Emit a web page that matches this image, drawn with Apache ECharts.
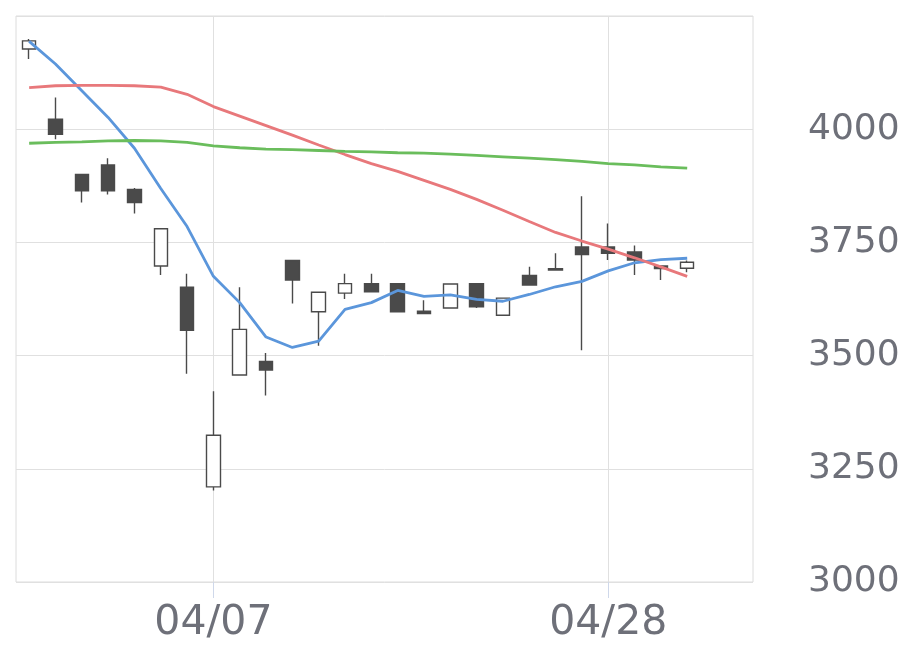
<!DOCTYPE html>
<html>
<head>
<meta charset="utf-8">
<script src="https://cdn.jsdelivr.net/npm/echarts@6/dist/echarts.min.js"></script>
<style>html,body{margin:0;padding:0;background:#fff}#c{width:920px;height:669px}</style>
</head>
<body>
<div id="c"></div>
<script>
const dates = ['03/27','03/28','03/31','04/01','04/02','04/03','04/04','04/07','04/08','04/09','04/10','04/11','04/14','04/15','04/16','04/17','04/18','04/21','04/22','04/23','04/24','04/25','04/28','04/30','05/01','05/02','05/07','05/08'];
const shownLabels = ['04/07','04/28'];
// [open, close, low, high]
const opens  = [4177,4022,3900,3921,3867,3698,3651,3210,3457,3487,3710,3597,3638,3659,3659,3598,3605,3659,3589,3677,3692,3740,3740,3729,3698,3693];
const closes = [4195,3989,3864,3864,3838,3780,3556,3324,3558,3468,3667,3640,3659,3641,3597,3593,3658,3608,3627,3656,3689,3723,3726,3711,3692,3706];
const lows   = [4155,3978,3838,3856,3814,3678,3460,3202,3457,3412,3615,3522,3625,3641,3597,3593,3605,3605,3589,3656,3689,3512,3711,3678,3667,3684];
const highs  = [4199,4070,3900,3936,3870,3780,3681,3421,3651,3506,3710,3640,3681,3681,3659,3622,3658,3659,3627,3696,3726,3852,3792,3743,3698,3710];
const ma5  = [4194,4144,4085,4026,3958,3869,3785,3675,3617,3541,3518,3532,3602,3617,3644,3631,3634,3624,3620,3635,3652,3664,3687,3705,3712,3715];
const ma25 = [4092,4096,4097,4097,4096,4093,4077,4050,4029,4008,3987,3965,3944,3924,3907,3887,3867,3845,3821,3796,3772,3753,3735,3716,3696,3675];
const ma75 = [3969,3971,3972,3974,3975,3974,3971,3963,3959,3956,3955,3953,3951,3950,3948,3947,3945,3942,3939,3936,3933,3929,3924,3921,3917,3914];
const yTicks = [3000,3250,3500,3750,4000,4250];

const candleData = opens.map((o,i)=>[o, closes[i], lows[i], highs[i]]);
const showIdx = (i, v) => shownLabels.indexOf(dates[i]) >= 0;

const chart = echarts.init(document.getElementById('c'), null, {renderer:'canvas'});
chart.setOption({
  animation:false,
  backgroundColor:'#fff',
  grid:{left:16,right:167,top:16,bottom:87,show:true,borderColor:'#dcdcdc',borderWidth:1},
  xAxis:{
    type:'category',data:dates,boundaryGap:true,
    axisLine:{show:false},
    axisTick:{show:true,alignWithLabel:true,interval:showIdx,length:16,lineStyle:{color:'#cfd8ea',width:1}},
    axisLabel:{interval:showIdx,margin:21,fontFamily:'DejaVu Sans',fontSize:41,color:'#6e7079'},
    splitLine:{show:true,alignWithLabel:true,interval:showIdx,lineStyle:{color:'#e0e0e0',width:1}}
  },
  yAxis:{
    type:'value',position:'right',min:yTicks[0],max:yTicks[yTicks.length-1],interval:250,
    axisLine:{show:false},axisTick:{show:false},
    axisLabel:{showMaxLabel:false,margin:55,fontFamily:'DejaVu Sans',fontSize:36,color:'#6e7079',formatter:v=>String(v)},
    splitLine:{show:true,lineStyle:{color:'#e0e0e0',width:1}}
  },
  series:[
    {type:'candlestick',data:candleData,barWidth:14,
     itemStyle:{color:'#ffffff',color0:'#4a4a4a',borderColor:'#4a4a4a',borderColor0:'#4a4a4a',borderWidth:1.4}},
    {type:'line',data:ma5,showSymbol:false,symbol:'none',lineStyle:{color:'#5b96db',width:2.8},z:3},
    {type:'line',data:ma25,showSymbol:false,symbol:'none',lineStyle:{color:'#e8787b',width:2.8},z:3},
    {type:'line',data:ma75,showSymbol:false,symbol:'none',lineStyle:{color:'#6abd5c',width:2.8},z:3}
  ]
});
</script>
</body>
</html>
